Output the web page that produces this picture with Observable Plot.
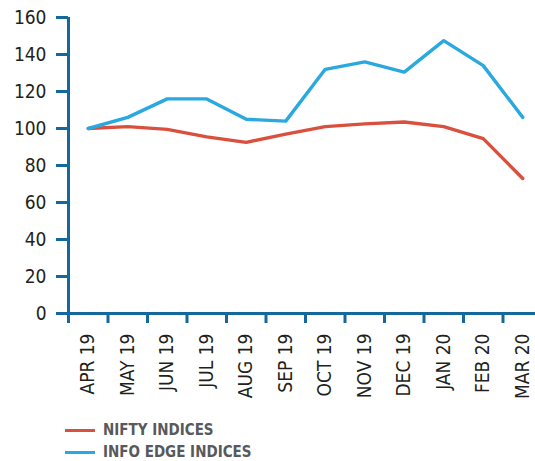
<!DOCTYPE html>
<html>
<head>
<meta charset="utf-8">
<script src="https://cdn.jsdelivr.net/npm/d3@7"></script>
<script src="https://cdn.jsdelivr.net/npm/@observablehq/plot@0.6"></script>
<style>
  html, body { margin: 0; padding: 0; background: #fff; }
  #wrap { position: relative; width: 535px; height: 461px; overflow: hidden; }
  #chart svg { max-width: none !important; }
  #legend { position: absolute; left: 65px; top: 419px; font-family: "Liberation Sans Narrow", "DejaVu Sans Condensed", sans-serif; font-weight: bold; font-size: 15px; color: #58595b; }
  .row { display: flex; align-items: center; height: 22px; }
  .sw { width: 30px; height: 3px; margin-right: 8px; }
</style>
</head>
<body>
<div id="wrap">
  <div id="chart"></div>
  <div id="legend"></div>
</div>
<script>
const months = ["APR 19","MAY 19","JUN 19","JUL 19","AUG 19","SEP 19","OCT 19","NOV 19","DEC 19","JAN 20","FEB 20","MAR 20"];
const nifty = [100, 101, 99.5, 95.5, 92.5, 97, 101, 102.5, 103.5, 101, 94.5, 73];
const infoEdge = [100, 106, 116, 116, 105, 104, 132, 136, 130.5, 147.5, 134, 106];
const yTicks = [0, 20, 40, 60, 80, 100, 120, 140, 160];
const seriesNames = ["NIFTY INDICES", "INFO EDGE INDICES"];
const seriesColors = ["#d9503f", "#2aa9e0"];

const axisColor = "#14689b";
const font = '"Liberation Sans Narrow", "DejaVu Sans Condensed", sans-serif';

const rows = [];
months.forEach((m, i) => {
  rows.push({i, v: nifty[i], s: seriesNames[0]});
  rows.push({i, v: infoEdge[i], s: seriesNames[1]});
});
const boundaries = d3.range(months.length + 1).map(k => k - 0.5);

const chart = Plot.plot({
  width: 545,
  height: 405,
  marginLeft: 68,
  marginRight: 3,
  marginTop: 17,
  marginBottom: 92,
  style: {fontFamily: font, fontSize: "19px", color: "#231f20", background: "#fff", maxWidth: "none"},
  x: {domain: [-0.5, months.length - 0.5]},
  y: {domain: [0, 160]},
  color: {domain: seriesNames, range: seriesColors},
  marks: [
    Plot.axisY({ticks: yTicks, tickSize: 12, tickFormat: () => "", stroke: axisColor, strokeWidth: 3, label: null}),
    Plot.axisY({ticks: yTicks, tickSize: 0, tickPadding: 22, fontSize: 19, fill: "#231f20", label: null}),
    Plot.axisX({ticks: boundaries, tickSize: 10, tickFormat: () => "", stroke: axisColor, strokeWidth: 3, label: null}),
    Plot.axisX({ticks: d3.range(months.length), tickSize: 0, tickPadding: 20, tickRotate: -90, tickFormat: i => months[i], fontSize: 19, fill: "#231f20", label: null}),
    Plot.ruleX([-0.5], {stroke: axisColor, strokeWidth: 3}),
    Plot.ruleY([0], {stroke: axisColor, strokeWidth: 3}),
    Plot.line(rows, {x: "i", y: "v", z: "s", stroke: "s", strokeWidth: 3.4})
  ]
});
document.getElementById("chart").appendChild(chart);

const legend = document.getElementById("legend");
seriesNames.forEach((n, k) => {
  const r = document.createElement("div");
  r.className = "row";
  const sw = document.createElement("div");
  sw.className = "sw";
  sw.style.background = seriesColors[k];
  const t = document.createElement("span");
  t.textContent = n;
  r.appendChild(sw); r.appendChild(t);
  legend.appendChild(r);
});
</script>
</body>
</html>
